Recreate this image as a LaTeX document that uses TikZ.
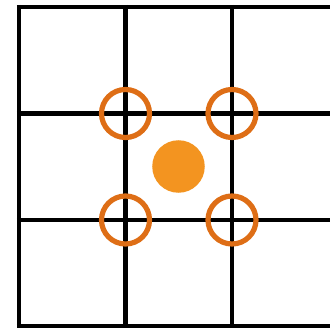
\documentclass[tikz,border=0pt]{standalone}
\usepackage{tikz}

\definecolor{ringorange}{RGB}{222,110,22}
\definecolor{dotorange}{RGB}{243,148,32}

\tikzset{
  gridline/.style={line width=3.5pt, black},
  ring/.style={circle, draw=ringorange, line width=3.9pt, inner sep=0pt, minimum size=36pt},
  dot/.style={circle, fill=dotorange, inner sep=0pt, minimum size=39.4pt},
}

\begin{document}
\begin{tikzpicture}[x=0.75pt, y=-0.75pt]
  \useasboundingbox (0,0) rectangle (330,328);
  \clip (0,0) rectangle (330,328);

  % grid
  \foreach \y in {7,113.5,220,326.5}
    \draw[gridline] (17,\y) -- (345,\y);
  \foreach \x in {19,125.5,232}
    \draw[gridline] (\x,5) -- (\x,330);

  % corners round the centre
  \coordinate (c11) at (125.5,113.5);
  \coordinate (c12) at (232,113.5);
  \coordinate (c21) at (125.5,220);
  \coordinate (c22) at (232,220);

  \node[ring] (r11) at (c11) {};
  \node[ring] (r12) at (c12) {};
  \node[ring] (r21) at (c21) {};
  \node[ring] (r22) at (c22) {};

  \node[dot] (centre) at (178.5,166.5) {};

\end{tikzpicture}
\end{document}
